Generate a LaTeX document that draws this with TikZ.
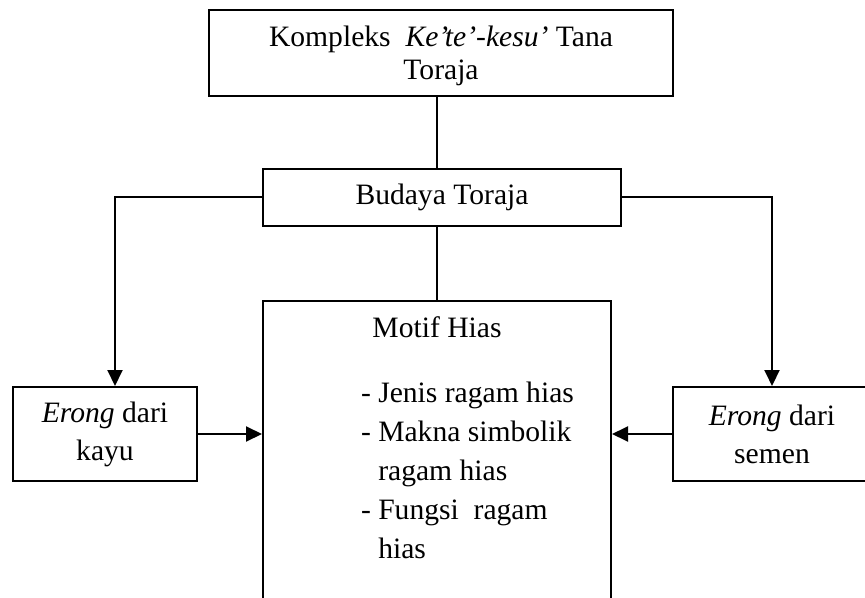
\documentclass[tikz,border=0pt]{standalone}
\usepackage{fontspec}
\setmainfont{Liberation Serif}
\usetikzlibrary{arrows.meta, positioning, calc}
\tikzset{kotak/.style={draw, line width=1pt, align=center, inner sep=0pt, font=\fontsize{14.8}{19}\selectfont}}

\begin{document}
\begin{tikzpicture}[x=0.5pt, y=-0.5pt, line width=1pt, >={Triangle[length=8pt, width=7.5pt]}]
        \useasboundingbox (0,0) rectangle (865,598);
        \clip (0,0) rectangle (865,598);

        \node [kotak, minimum width=232pt, minimum height=43pt] (KT) at (441,53) {};
        \node [font=\fontsize{14.8}{16.5}\selectfont, align=center, inner sep=0pt] (KTT) at (441,56) {Kompleks\ \ \textit{Ke’te’-kesu’} Tana\\Toraja};
        \node [kotak, minimum width=179pt, minimum height=28.5pt] (BT) at (442,197.5) {Budaya Toraja};
        \node [kotak, minimum width=174pt, minimum height=170pt, anchor=north] (MH) at (437,300) {};
        \node [kotak, minimum width=92pt, minimum height=47pt] (EK) at (105,434) {\textit{Erong} dari\\kayu};
        \node [kotak, minimum width=99pt, minimum height=47pt] (ES) at (772,434) {\textit{Erong} dari\\semen};

        % isi kotak motif hias
        \node [anchor=base, inner sep=0pt, font=\fontsize{14.8}{19.5}\selectfont] (MT) at (437,337) {Motif Hias};
        \node [anchor=base west, inner sep=0pt, font=\fontsize{14.8}{19.5}\selectfont] (ML) at (360,402) {\begin{tabular}[t]{@{}l@{}}- Jenis ragam hias\\- Makna simbolik\\\hphantom{-\ }ragam hias\\- Fungsi\ \ ragam\\\hphantom{-\ }hias\end{tabular}};

        \draw (MH.north |- KT.south) -- (MH.north |- BT.north);
        \draw (MH.north |- BT.south) -- (MH.north);
        \draw [->] (BT.west) -| ([xshift=5pt]EK.north);
        \draw [->] (BT.east) -| (ES.north);
        \draw [->] (EK.east) -- (EK.east -| MH.west);
        \draw [->] (ES.west) -- (ES.west -| MH.east);
\end{tikzpicture}
\end{document}
